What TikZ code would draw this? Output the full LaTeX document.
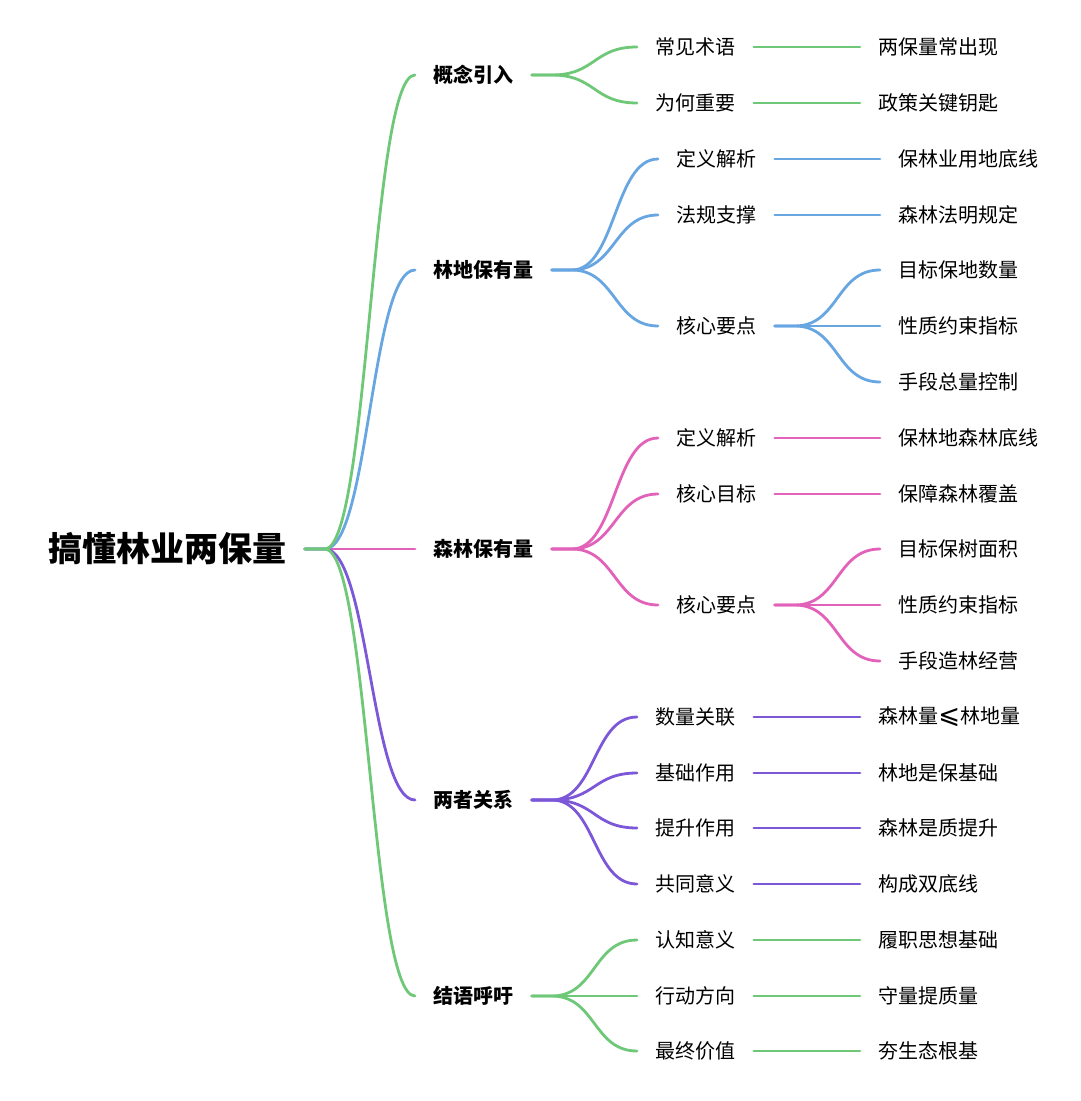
\documentclass[tikz,border=0pt]{standalone}
\usepackage{fontspec}
\setmainfont{Noto Sans CJK SC}
\newfontfamily\symfont{DejaVu Sans}
\definecolor{greencol}{RGB}{110, 200, 120}
\definecolor{bluecol}{RGB}{104, 166, 226}
\definecolor{pinkcol}{RGB}{226, 98, 186}
\definecolor{purplecol}{RGB}{124, 88, 216}

\begin{document}
\begin{tikzpicture}[
    x=0.5pt, y=-0.5pt,
    base/.style = {anchor=west, inner xsep=9pt, inner ysep=2pt, font=\fontsize{10}{12}\selectfont},
    rootnode/.style = {base, font=\fontsize{17}{20}\selectfont\bfseries},
    topic/.style = {base, font=\fontsize{10}{12}\selectfont\bfseries},
    subtopic/.style = {base},
    leaf/.style = {base},
    branch/.style = {line width=1.4pt, line cap=round,
                     to path={-- ++(20,0) .. controls +(44,0) and +(-44,0) .. (\tikztotarget)}}
]
    \useasboundingbox (0,0) rectangle (1080,1101);

    % ROOT
    \node[rootnode] (root) at (30,549) {搞懂林业两保量};

    % LEVEL 1
    \node[topic] (gn) at (415,75) {概念引入};
    \node[topic] (ld) at (415,270) {林地保有量};
    \node[topic] (sl) at (415,549) {森林保有量};
    \node[topic] (gx) at (415,800) {两者关系};
    \node[topic] (jy) at (415,996) {结语呼吁};

    % LEVEL 2
    \node[subtopic] (gn1) at (637,47) {常见术语};
    \node[subtopic] (gn2) at (637,103) {为何重要};

    \node[subtopic] (ld1) at (658,159) {定义解析};
    \node[subtopic] (ld2) at (658,215) {法规支撑};
    \node[subtopic] (ld3) at (658,326) {核心要点};

    \node[subtopic] (sl1) at (658,438) {定义解析};
    \node[subtopic] (sl2) at (658,494) {核心目标};
    \node[subtopic] (sl3) at (658,605) {核心要点};

    \node[subtopic] (gx1) at (637,717) {数量关联};
    \node[subtopic] (gx2) at (637,773) {基础作用};
    \node[subtopic] (gx3) at (637,828) {提升作用};
    \node[subtopic] (gx4) at (637,884) {共同意义};

    \node[subtopic] (jy1) at (637,940) {认知意义};
    \node[subtopic] (jy2) at (637,996) {行动方向};
    \node[subtopic] (jy3) at (637,1051) {最终价值};

    % LEAVES
    \node[leaf] (gn1a) at (860,47) {两保量常出现};
    \node[leaf] (gn2a) at (860,103) {政策关键钥匙};

    \node[leaf] (ld1a) at (880,159) {保林业用地底线};
    \node[leaf] (ld2a) at (880,215) {森林法明规定};
    \node[leaf] (ld3a) at (880,270) {目标保地数量};
    \node[leaf] (ld3b) at (880,326) {性质约束指标};
    \node[leaf] (ld3c) at (880,382) {手段总量控制};

    \node[leaf] (sl1a) at (880,438) {保林地森林底线};
    \node[leaf] (sl2a) at (880,494) {保障森林覆盖};
    \node[leaf] (sl3a) at (880,549) {目标保树面积};
    \node[leaf] (sl3b) at (880,605) {性质约束指标};
    \node[leaf] (sl3c) at (880,661) {手段造林经营};

    \node[leaf] (gx1a) at (860,717) {森林量{\symfont\fontsize{13}{12}\selectfont ⩽}林地量};
    \node[leaf] (gx2a) at (860,773) {林地是保基础};
    \node[leaf] (gx3a) at (860,828) {森林是质提升};
    \node[leaf] (gx4a) at (860,884) {构成双底线};

    \node[leaf] (jy1a) at (860,940) {履职思想基础};
    \node[leaf] (jy2a) at (860,996) {守量提质量};
    \node[leaf] (jy3a) at (860,1051) {夯生态根基};

    % BRANCHES - root
    \draw[branch, pinkcol] (root.east) to (sl.west);
    \draw[branch, bluecol] (root.east) to (ld.west);
    \draw[branch, purplecol] (root.east) to (gx.west);
    \draw[branch, greencol] (root.east) to (gn.west);
    \draw[branch, greencol] (root.east) to (jy.west);

    % 概念引入
    \draw[branch, greencol] (gn.east) to (gn1.west);
    \draw[branch, greencol] (gn.east) to (gn2.west);
    \draw[branch, greencol] (gn1.east) to (gn1a.west);
    \draw[branch, greencol] (gn2.east) to (gn2a.west);

    % 林地保有量
    \draw[branch, bluecol] (ld.east) to (ld1.west);
    \draw[branch, bluecol] (ld.east) to (ld2.west);
    \draw[branch, bluecol] (ld.east) to (ld3.west);
    \draw[branch, bluecol] (ld1.east) to (ld1a.west);
    \draw[branch, bluecol] (ld2.east) to (ld2a.west);
    \draw[branch, bluecol] (ld3.east) to (ld3a.west);
    \draw[branch, bluecol] (ld3.east) to (ld3b.west);
    \draw[branch, bluecol] (ld3.east) to (ld3c.west);

    % 森林保有量
    \draw[branch, pinkcol] (sl.east) to (sl1.west);
    \draw[branch, pinkcol] (sl.east) to (sl2.west);
    \draw[branch, pinkcol] (sl.east) to (sl3.west);
    \draw[branch, pinkcol] (sl1.east) to (sl1a.west);
    \draw[branch, pinkcol] (sl2.east) to (sl2a.west);
    \draw[branch, pinkcol] (sl3.east) to (sl3a.west);
    \draw[branch, pinkcol] (sl3.east) to (sl3b.west);
    \draw[branch, pinkcol] (sl3.east) to (sl3c.west);

    % 两者关系
    \draw[branch, purplecol] (gx.east) to (gx1.west);
    \draw[branch, purplecol] (gx.east) to (gx2.west);
    \draw[branch, purplecol] (gx.east) to (gx3.west);
    \draw[branch, purplecol] (gx.east) to (gx4.west);
    \draw[branch, purplecol] (gx1.east) to (gx1a.west);
    \draw[branch, purplecol] (gx2.east) to (gx2a.west);
    \draw[branch, purplecol] (gx3.east) to (gx3a.west);
    \draw[branch, purplecol] (gx4.east) to (gx4a.west);

    % 结语呼吁
    \draw[branch, greencol] (jy.east) to (jy1.west);
    \draw[branch, greencol] (jy.east) to (jy2.west);
    \draw[branch, greencol] (jy.east) to (jy3.west);
    \draw[branch, greencol] (jy1.east) to (jy1a.west);
    \draw[branch, greencol] (jy2.east) to (jy2a.west);
    \draw[branch, greencol] (jy3.east) to (jy3a.west);

\end{tikzpicture}
\end{document}
